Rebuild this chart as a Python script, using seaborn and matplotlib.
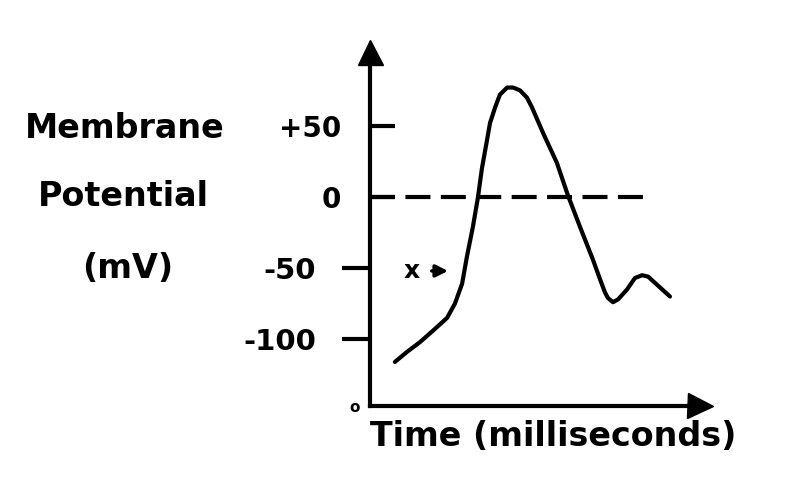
import matplotlib
matplotlib.use('Agg')
import matplotlib.pyplot as plt
import seaborn as sns
import pandas as pd

# action potential trace
time_ms = [0.83, 1.23, 1.67, 2.1, 2.57, 2.83, 3.07, 3.23, 3.43, 3.6, 3.73, 3.9,
           4.0, 4.17, 4.33, 4.57, 4.77, 5.0, 5.23, 5.4, 5.77, 6.23, 6.6, 7.0,
           7.43, 7.67, 7.83, 7.93, 8.1, 8.27, 8.57, 8.83, 9.07, 9.27, 10.0]
potential_mv = [-116, -109, -102, -94, -85, -75, -61, -42, -21, 0, 20, 40,
                52, 63, 72, 77, 77, 75, 70, 63, 45, 24, 1, -21,
                -44, -58, -67, -71, -74, -72, -65, -57, -55, -56, -70]
major_ticks = [50, 0]
major_labels = ['+50', '0']
minor_ticks = [-50, -100]
minor_labels = ['-50', '-100']
threshold_mv = 0

df = pd.DataFrame({'time': time_ms, 'potential': potential_mv})

sns.set_style('white')
plt.rcParams['font.family'] = ['DejaVu Sans']
plt.rcParams['text.color'] = 'black'
plt.rcParams['axes.labelcolor'] = 'black'

fig = plt.figure(figsize=(7.92, 4.97), dpi=100)
ax = fig.add_axes([370 / 792, 91 / 497, 330 / 792, 354 / 497])

sns.lineplot(data=df, x='time', y='potential', ax=ax, color='black',
             linewidth=3, sort=False, solid_joinstyle='round',
             solid_capstyle='round')
ax.axhline(threshold_mv, xmin=0, xmax=(645 - 370) / 330, color='black',
           linewidth=3, dashes=(6, 2.5))

ax.set_xlim(0, 11)
ax.set_ylim(-147, 102)

for side in ['top', 'right']:
    ax.spines[side].set_visible(False)
for side in ['left', 'bottom']:
    ax.spines[side].set_linewidth(3)
    ax.spines[side].set_color('black')

# axis arrows
ax.plot(0, 1, marker='^', color='black', markersize=18, transform=ax.transAxes,
        clip_on=False)
ax.plot(1, 0, marker='>', color='black', markersize=18, transform=ax.transAxes,
        clip_on=False)

ax.set_xticks([])
ax.set_yticks(major_ticks)
ax.set_yticklabels(major_labels)
ax.set_yticks(minor_ticks, minor=True)
ax.set_yticklabels(minor_labels, minor=True)
ax.tick_params(axis='y', which='major', direction='in', length=18, width=3,
               pad=21, labelsize=20, left=True, color='black',
               labelcolor='black')
ax.tick_params(axis='y', which='minor', direction='out', length=20, width=3,
               pad=19, labelsize=21, left=True, color='black',
               labelcolor='black')
for lab in ax.get_yticklabels(which='both'):
    lab.set_fontweight('bold')

ax.set_xlabel('Time (milliseconds)', fontsize=24, fontweight='bold',
              loc='left', labelpad=10)
ax.set_ylabel('')

fig.text(125 / 792, 1 - 128 / 497, 'Membrane', ha='center', va='center',
         fontsize=24, fontweight='bold')
fig.text(123 / 792, 1 - 197 / 497, 'Potential', ha='center', va='center',
         fontsize=24, fontweight='bold')
fig.text(128 / 792, 1 - 268 / 497, '(mV)', ha='center', va='center',
         fontsize=24, fontweight='bold')

ax.annotate('x', xy=(2.6, -52), xytext=(1.4, -52), fontsize=18,
            fontweight='bold', va='center', ha='center',
            arrowprops=dict(arrowstyle='-|>', color='black', lw=2.5,
                            shrinkA=6, shrinkB=0))
fig.text(355 / 792, 1 - 408 / 497, 'o', ha='center', va='center',
         fontsize=11, fontweight='bold')

fig.savefig('out.png', dpi=100)
